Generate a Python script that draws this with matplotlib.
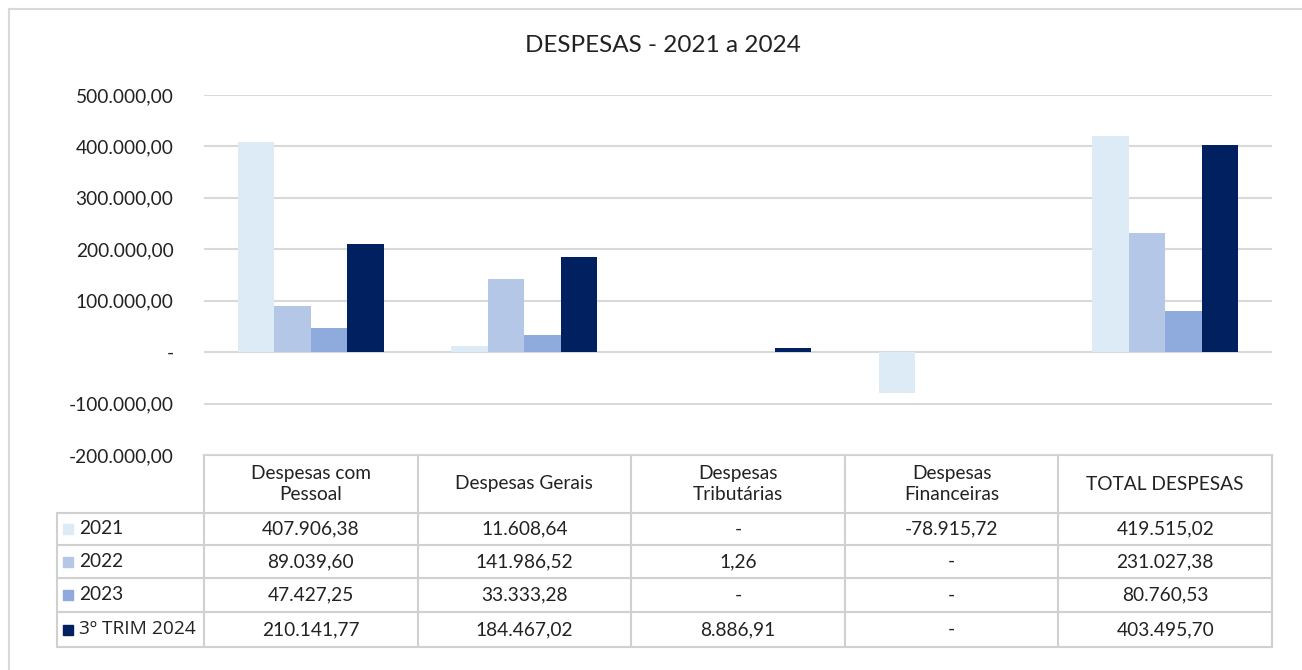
import matplotlib.pyplot as plt
import numpy as np

plt.rcParams['font.family'] = ['Lato', 'DejaVu Sans']

categorias = ["Despesas com\nPessoal", "Despesas Gerais", "Despesas\nTributárias",
              "Despesas\nFinanceiras", "TOTAL DESPESAS"]
series = ["2021", "2022", "2023", "3º TRIM 2024"]
v2021 = [407906.38, 11608.64, 0, -78915.72, 419515.02]
v2022 = [89039.60, 141986.52, 1.26, 0, 231027.38]
v2023 = [47427.25, 33333.28, 0, 0, 80760.53]
v2024 = [210141.77, 184467.02, 8886.91, 0, 403495.70]
valores = [v2021, v2022, v2023, v2024]
cores = ["#DDEBF7", "#B4C7E7", "#8FAADC", "#002060"]
yticks = [500000, 400000, 300000, 200000, 100000, 0, -100000, -200000]


def fmt(v):   # formato brasileiro
    if v == 0:
        return "-"
    s = f"{v:,.2f}"
    return s.replace(",", "X").replace(".", ",").replace("X", ".")


W, H = 1302, 670
fs = 13.8
fig = plt.figure(figsize=(W / 100, H / 100), dpi=100)

# camada de fundo em pixels (moldura, titulo, tabela)
bg = fig.add_axes([0, 0, 1, 1])
bg.set_xlim(0, W)
bg.set_ylim(H, 0)
bg.axis("off")
gris = "#D9D9D9"
bg.plot([9, 9], [9, H], color=gris, lw=1.5)
bg.plot([9, W], [9, 9], color=gris, lw=1.5)
bg.text(663, 46, "DESPESAS - 2021 a 2024", ha="center", va="center", fontsize=17.5, color="#222222")

# eixo do grafico
x0, x1, ytop, ybot = 204, 1272, 95, 455
ax = fig.add_axes([x0 / W, 1 - ybot / H, (x1 - x0) / W, (ybot - ytop) / H])
ax.set_facecolor("none")
n = len(categorias)
x = np.arange(n)
bw = 0.171
for i, (vals, c) in enumerate(zip(valores, cores)):
    ax.bar(x + (i - 1.5) * bw, vals, bw, color=c, edgecolor="none", zorder=3)
ax.set_xlim(-0.5, n - 0.5)
ax.set_ylim(-200000, 500000)
ax.set_yticks(yticks)
ax.set_yticklabels([fmt(t) for t in yticks], fontsize=fs, color="#222222")
ax.set_xticks([])
ax.grid(axis="y", color=gris, lw=1.5, zorder=0)
ax.tick_params(axis="y", length=0, pad=22)
for s in ax.spines.values():
    s.set_visible(False)

# tabela de dados
colw = (x1 - x0) / n
rows_y = [455, 513, 545, 578, 612, 647]
lx = 57
lc = "#D0D0D0"
for yy in rows_y:
    bg.plot([x0 if yy == 455 else lx, x1], [yy, yy], color=lc, lw=1.5)
bg.plot([lx, lx], [513, 647], color=lc, lw=1.5)
for j in range(n + 1):
    xx = x0 + j * colw
    bg.plot([xx, xx], [455, 647], color=lc, lw=1.5)
for j, cat in enumerate(categorias):
    bg.text(x0 + (j + 0.5) * colw, 484, cat, ha="center", va="center",
            fontsize=fs, color="#222222", linespacing=1.3)
for i, (nome, vals, c) in enumerate(zip(series, valores, cores)):
    yc = (rows_y[i + 1] + rows_y[i + 2]) / 2
    bg.add_patch(plt.Rectangle((63, yc - 5), 10, 10, color=c))
    bg.text(79, yc, nome, ha="left", va="center", fontsize=fs, color="#222222",
            family=['Open Sans', 'DejaVu Sans'] if "º" in nome else None)
    for j, v in enumerate(vals):
        bg.text(x0 + (j + 0.5) * colw, yc, fmt(v), ha="center", va="center",
                fontsize=fs, color="#222222")

fig.savefig("out.png", dpi=100)
